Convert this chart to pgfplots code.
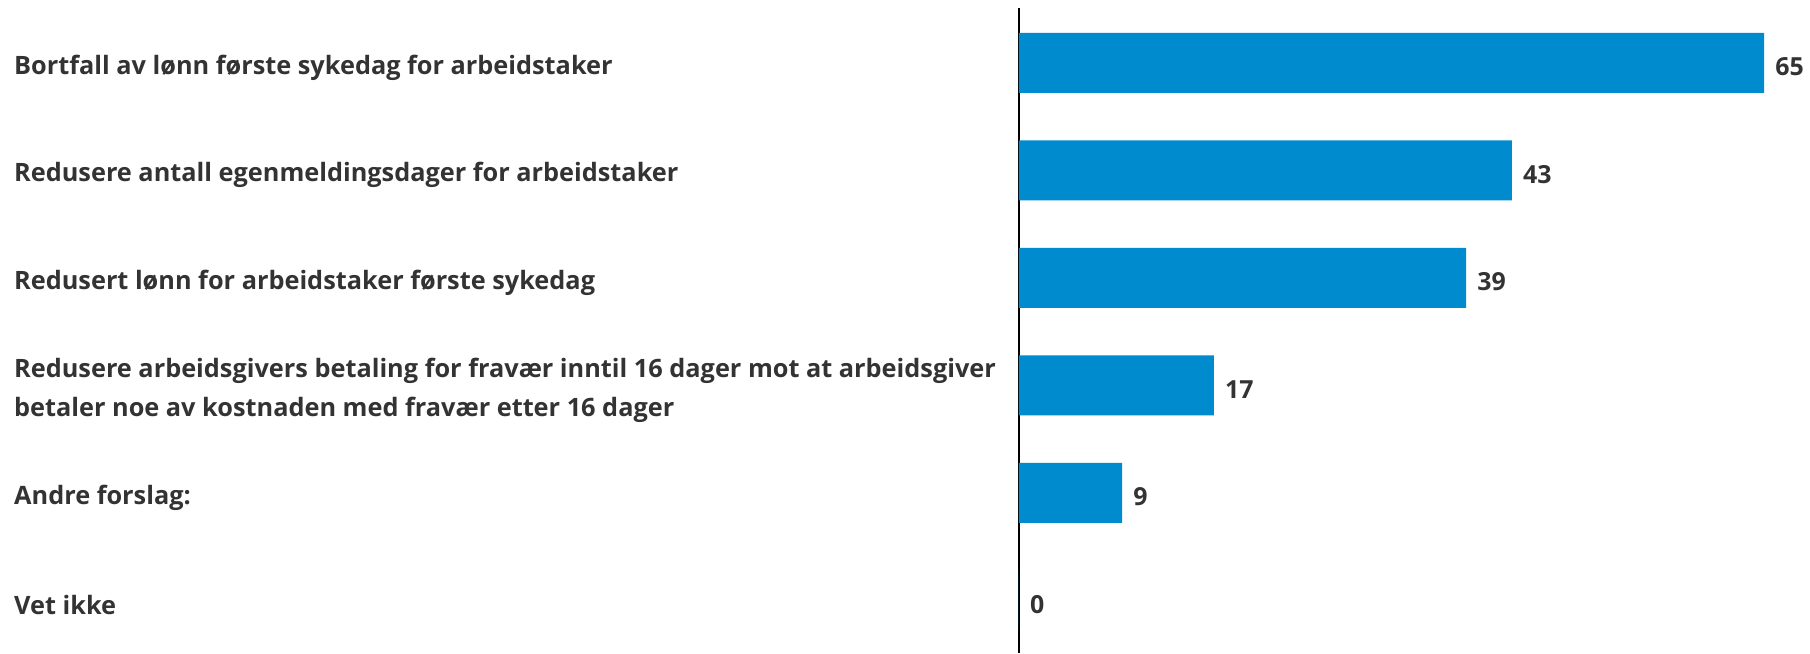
\documentclass[border=0pt]{standalone}
\usepackage{fontspec}
\setmainfont{Open Sans}
\usepackage{pgfplots}
\pgfplotsset{compat=1.18}
\definecolor{barblue}{HTML}{008BCE}
\definecolor{txt}{HTML}{333333}
\begin{document}
\begin{tikzpicture}
\begin{axis}[
  scale only axis,
  width=791bp, height=645bp,
  xbar, y dir=reverse,
  xmin=0, xmax=69,
  ymin=-0.51, ymax=5.49,
  bar width=60bp,
  separate axis lines,
  axis x line=none,
  axis y line*=left,
  y axis line style={black, line width=2bp, -},
  ytick={0,1,2,3,4,5},
  major tick length=0pt,
  /pgf/number format/assume math mode=true,
  yticklabels={{Bortfall av lønn første sykedag for arbeidstaker},
    {Redusere antall egenmeldingsdager for arbeidstaker},
    {Redusert lønn for arbeidstaker første sykedag},
    {Redusere arbeidsgivers betaling for fravær inntil 16 dager mot at arbeidsgiver\\[4bp]betaler noe av kostnaden med fravær etter 16 dager},
    {Andre forslag:},
    {Vet ikke}},
  yticklabel style={anchor=west, xshift=-1005bp, yshift=-5bp, align=left, inner sep=0pt,
    font=\fontsize{25.4}{36}\selectfont\bfseries, text=txt},
  nodes near coords,
  nodes near coords style={anchor=west, inner sep=0pt, xshift=11bp, yshift=-4bp, font=\fontsize{25}{26}\selectfont\bfseries, text=txt},
  clip=false,
]
\addplot[fill=barblue, draw=none] coordinates {(65,0) (43,1) (39,2) (17,3) (9,4) (0,5)};
\end{axis}
\pgfresetboundingbox
\path[use as bounding box] ([xshift=-1019bp]current axis.south west) rectangle ([yshift=8bp]current axis.north east);
\end{tikzpicture}
\end{document}
